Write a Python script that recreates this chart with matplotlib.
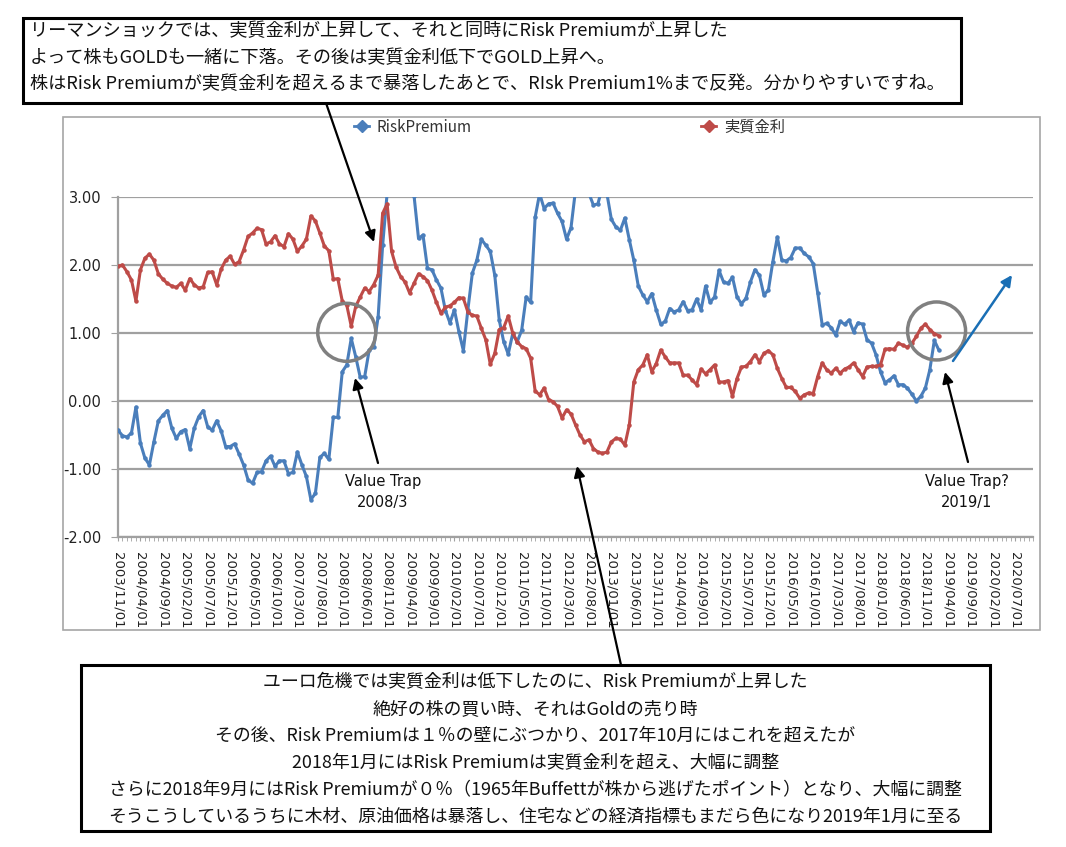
import matplotlib
matplotlib.use('Agg')
import matplotlib.pyplot as plt
import numpy as np
import pandas as pd
from matplotlib.lines import Line2D
from matplotlib.patches import Rectangle, Ellipse, FancyArrowPatch

plt.rcParams['axes.unicode_minus'] = False
JP = ['Noto Sans CJK JP', 'DejaVu Sans']

# monthly categories 2003/11 .. 2020/11, data up to 2019/02
categories = pd.date_range('2003-11-01', '2020-11-01', freq='MS')

risk_premium = [
    -0.43, -0.51, -0.53, -0.47, -0.09, -0.62, -0.84, -0.94, -0.60, -0.29,
    -0.21, -0.14, -0.40, -0.55, -0.45, -0.42, -0.70, -0.40, -0.23, -0.14,
    -0.38, -0.43, -0.29, -0.44, -0.67, -0.67, -0.63, -0.78, -0.94, -1.16,
    -1.21, -1.05, -1.04, -0.88, -0.81, -0.96, -0.88, -0.88, -1.07, -1.05,
    -0.75, -0.94, -1.11, -1.45, -1.36, -0.83, -0.77, -0.86, -0.24, -0.24,
    0.43, 0.53, 0.92, 0.65, 0.35, 0.36, 0.75, 0.79, 1.24, 2.29,
    3.05, 3.60, 4.00, 3.90, 3.60, 3.30, 3.02, 2.39, 2.44, 1.95,
    1.93, 1.78, 1.66, 1.33, 1.15, 1.34, 1.02, 0.74, 1.34, 1.88,
    2.07, 2.38, 2.29, 2.20, 1.85, 1.19, 0.87, 0.69, 0.99, 0.87,
    1.04, 1.53, 1.45, 2.70, 3.05, 2.83, 2.90, 2.91, 2.76, 2.64,
    2.38, 2.55, 3.10, 3.40, 3.30, 3.05, 2.88, 2.90, 3.15, 3.05,
    2.67, 2.56, 2.51, 2.69, 2.37, 2.07, 1.69, 1.56, 1.46, 1.58,
    1.34, 1.13, 1.17, 1.36, 1.31, 1.34, 1.46, 1.33, 1.34, 1.50,
    1.34, 1.69, 1.45, 1.53, 1.92, 1.75, 1.73, 1.82, 1.53, 1.43,
    1.51, 1.75, 1.93, 1.85, 1.56, 1.63, 2.05, 2.41, 2.07, 2.06,
    2.11, 2.25, 2.25, 2.17, 2.12, 2.02, 1.59, 1.12, 1.14, 1.08,
    0.97, 1.17, 1.13, 1.19, 1.02, 1.15, 1.13, 0.90, 0.85, 0.68,
    0.43, 0.27, 0.31, 0.37, 0.24, 0.24, 0.19, 0.10, 0.00, 0.07,
    0.19, 0.46, 0.89, 0.75,
]

real_rate = [
    1.98, 2.00, 1.90, 1.78, 1.47, 1.93, 2.10, 2.16, 2.07, 1.87,
    1.79, 1.73, 1.69, 1.67, 1.73, 1.63, 1.80, 1.71, 1.66, 1.68,
    1.89, 1.90, 1.71, 1.94, 2.07, 2.13, 2.01, 2.05, 2.22, 2.42,
    2.47, 2.54, 2.52, 2.31, 2.34, 2.43, 2.31, 2.27, 2.46, 2.38,
    2.20, 2.28, 2.38, 2.72, 2.65, 2.47, 2.28, 2.21, 1.79, 1.80,
    1.47, 1.41, 1.10, 1.39, 1.53, 1.66, 1.61, 1.71, 1.85, 2.76,
    2.90, 2.20, 1.97, 1.83, 1.75, 1.59, 1.73, 1.87, 1.83, 1.77,
    1.63, 1.45, 1.29, 1.38, 1.40, 1.45, 1.52, 1.51, 1.31, 1.26,
    1.25, 1.07, 0.90, 0.54, 0.70, 1.05, 1.08, 1.25, 1.00, 0.87,
    0.80, 0.77, 0.63, 0.15, 0.09, 0.19, 0.02, -0.01, -0.08, -0.25,
    -0.13, -0.19, -0.35, -0.50, -0.60, -0.57, -0.70, -0.75, -0.77, -0.75,
    -0.60, -0.55, -0.56, -0.65, -0.35, 0.28, 0.46, 0.53, 0.68, 0.43,
    0.55, 0.75, 0.65, 0.56, 0.56, 0.56, 0.38, 0.38, 0.31, 0.24,
    0.47, 0.40, 0.46, 0.53, 0.28, 0.28, 0.30, 0.07, 0.33, 0.50,
    0.51, 0.58, 0.68, 0.58, 0.70, 0.74, 0.68, 0.48, 0.33, 0.20,
    0.20, 0.14, 0.04, 0.09, 0.12, 0.11, 0.36, 0.56, 0.46, 0.41,
    0.48, 0.41, 0.47, 0.50, 0.56, 0.46, 0.36, 0.50, 0.51, 0.51,
    0.53, 0.76, 0.77, 0.76, 0.85, 0.82, 0.79, 0.85, 0.95, 1.07,
    1.13, 1.05, 0.99, 0.96,
]

y_ticks = [-2, -1, 0, 1, 2, 3]

top_note = [
    'リーマンショックでは、実質金利が上昇して、それと同時にRisk Premiumが上昇した',
    'よって株もGOLDも一緒に下落。その後は実質金利低下でGOLD上昇へ。',
    '株はRisk Premiumが実質金利を超えるまで暴落したあとで、RIsk Premium1%まで反発。分かりやすいですね。',
]
bottom_note = [
    'ユーロ危機では実質金利は低下したのに、Risk Premiumが上昇した',
    '絶好の株の買い時、それはGoldの売り時',
    'その後、Risk Premiumは１％の壁にぶつかり、2017年10月にはこれを超えたが',
    '2018年1月にはRisk Premiumは実質金利を超え、大幅に調整',
    'さらに2018年9月にはRisk Premiumが０％（1965年Buffettが株から逃げたポイント）となり、大幅に調整',
    'そうこうしているうちに木材、原油価格は暴落し、住宅などの経済指標もまだら色になり2019年1月に至る',
]

W, H = 1066, 847
def fx(px):
    return px / W
def fy(py):
    return 1 - py / H

fig = plt.figure(figsize=(W / 100, H / 100), dpi=100)
ax = fig.add_axes([fx(118), fy(537), (1033 - 118) / W, (537 - 197) / H])

blue = '#4a7ebb'
red = '#be4b48'
x_rp = np.arange(len(risk_premium))
x_rr = np.arange(len(real_rate))
l1, = ax.plot(x_rp, risk_premium, color=blue, lw=2.2, marker='o', ms=2.2, zorder=3)
l2, = ax.plot(x_rr, real_rate, color=red, lw=2.2, marker='o', ms=2.2, zorder=3)

ax.set_xlim(0, len(categories) - 1)
ax.set_ylim(-2, 3)
ax.set_yticks(y_ticks)
ax.set_yticklabels(['%.2f' % v for v in y_ticks])
ax.yaxis.grid(True, color='#a0a0a0', lw=1.6)
ax.set_axisbelow(True)
for s in ['top', 'right']:
    ax.spines[s].set_visible(False)
for s in ['left', 'bottom']:
    ax.spines[s].set_color('#a0a0a0')
    ax.spines[s].set_linewidth(1.6)

major = np.arange(0, len(categories), 5)
ax.set_xticks(major)
ax.set_xticklabels([categories[i].strftime('%Y/%m/%d') for i in major],
                   rotation=270, fontsize=9.5, color='#222222')
ax.set_xticks(np.arange(len(categories)), minor=True)
ax.tick_params(axis='x', which='both', length=3, color='#a0a0a0', pad=8)
ax.tick_params(axis='y', length=5, color='#a0a0a0', pad=7, labelsize=10.5,
               labelcolor='#222222')

# chart frame
fig.add_artist(Rectangle((fx(63), fy(630)), (1040 - 63) / W, (630 - 117) / H,
                         transform=fig.transFigure, fill=False,
                         edgecolor='#a6a6a6', lw=1.2))

# legend
h1 = Line2D([], [], color=blue, lw=2, marker='D', ms=6)
h2 = Line2D([], [], color=red, lw=2, marker='D', ms=6)
leg = fig.legend([h1, h2], ['RiskPremium', '実質金利'], ncol=2, frameon=False,
                 loc='center left', bbox_to_anchor=(fx(354), fy(127)),
                 prop={'family': JP, 'size': 11}, handlelength=1.0,
                 handletextpad=0.5, columnspacing=15.0, borderpad=0,
                 borderaxespad=0)
for t in leg.get_texts():
    t.set_color('#333333')

# circles
for cx, cy in [(51.0, 1.01), (182.5, 1.03)]:
    ax.add_patch(Ellipse((cx, cy), 2 * 29 / 4.485, 2 * 29 / 68, fill=False,
                         edgecolor='#808080', lw=2.5, clip_on=False, zorder=5))

arrow_kw = dict(arrowstyle='-|>', color='black', lw=1.6, mutation_scale=16)

def fig_arrow(p0, p1, **kw):
    a = FancyArrowPatch((fx(p0[0]), fy(p0[1])), (fx(p1[0]), fy(p1[1])),
                        transform=fig.transFigure, shrinkA=0, shrinkB=0, **kw)
    fig.add_artist(a)

fig_arrow((326, 103), (374, 242), **arrow_kw)
fig_arrow((378, 463), (355, 378), **arrow_kw)
fig_arrow((621, 665), (577, 466), **arrow_kw)
fig_arrow((968, 462), (945, 372), **arrow_kw)
fig_arrow((953, 361), (1012, 275), arrowstyle='-|>', color='#1a6fb5', lw=1.8,
          mutation_scale=16)

fig.text(fx(383), fy(492), 'Value Trap\n2008/3', ha='center', va='center',
         fontsize=10.5, linespacing=1.5, color='#111111')
fig.text(fx(967), fy(492), 'Value Trap?\n2019/1', ha='center', va='center',
         fontsize=10.5, linespacing=1.5, color='#111111')

# note boxes
fig.add_artist(Rectangle((fx(23), fy(103)), (961 - 23) / W, (103 - 18) / H,
                         transform=fig.transFigure, fill=True, facecolor='white',
                         edgecolor='black', lw=2.2, zorder=4))
for i, line in enumerate(top_note):
    fig.text(fx(30), fy(31.5 + 26.5 * i), line, ha='left', va='center',
             family=JP, fontsize=13.1, color='#111111', zorder=5)

fig.add_artist(Rectangle((fx(81), fy(831)), (990 - 81) / W, (831 - 665) / H,
                         transform=fig.transFigure, fill=True, facecolor='white',
                         edgecolor='black', lw=2.2, zorder=4))
for i, line in enumerate(bottom_note):
    fig.text(fx(535.5), fy(682 + 27 * i), line, ha='center', va='center',
             family=JP, fontsize=12.9, color='#111111', zorder=5)

fig.savefig('out.png', dpi=100)
